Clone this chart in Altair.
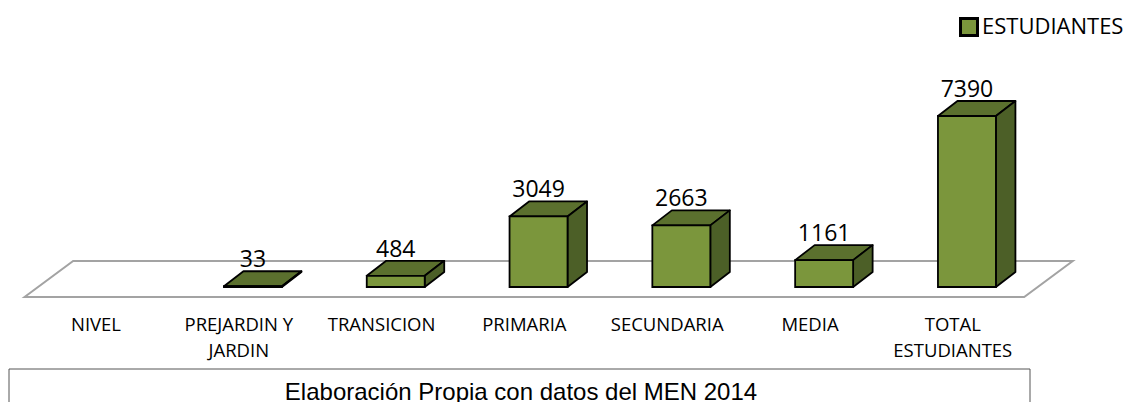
import altair as alt
import pandas as pd

categories = ["NIVEL", "PREJARDIN Y JARDIN", "TRANSICION", "PRIMARIA", "SECUNDARIA", "MEDIA", "TOTAL ESTUDIANTES"]
label_lines = [["NIVEL"], ["PREJARDIN Y", "JARDIN"], ["TRANSICION"], ["PRIMARIA"], ["SECUNDARIA"], ["MEDIA"], ["TOTAL", "ESTUDIANTES"]]
values = [None, 33, 484, 3049, 2663, 1161, 7390]
series_name = "ESTUDIANTES"
caption = "Elaboración Propia con datos del MEN 2014"

PX_X = 142.8
PX_Y = 171 / 7390
X_DOM = [(8 - 96) / PX_X, (1128 - 96) / PX_X]
Y_DOM = [(287 - 402) / PX_Y, (287 - 8) / PX_Y]
BAR_L, BAR_W = -0.104, 0.406
DX, DY = 19.5 / PX_X, 15 / PX_Y

xs = alt.Scale(domain=X_DOM, nice=False, zero=False)
ys = alt.Scale(domain=Y_DOM, nice=False, zero=False)
X = lambda f="x": alt.X(f"{f}:Q", scale=xs, axis=None)
Y = lambda f="y": alt.Y(f"{f}:Q", scale=ys, axis=None)

front, top, side, cats = [], [], [], []
for i, (c, v, ll) in enumerate(zip(categories, values, label_lines)):
    cats.append({"i": i, "lab": ll, "y": (287 - 330.5) / PX_Y})
    if v is None:
        continue
    l = i + BAR_L
    r = l + BAR_W
    front.append({"cat": c, "series": series_name, "x": l, "x2": r, "y": 0, "y2": v, "xc": l + BAR_W / 2, "v": v})
    for x, lo, hi in [(l, v, v), (l + DX, v, v + DY), (r, v, v + DY), (r + DX, v + DY, v + DY)]:
        top.append({"cat": c, "x": x, "y": lo, "y2": hi})
    for x, lo, hi in [(r, 0, v), (r + DX, DY, v + DY)]:
        side.append({"cat": c, "x": x, "y": lo, "y2": hi})

fl, fd = -10 / PX_Y, 36 / PX_Y
fdx = 0.34
floor = pd.DataFrame([
    {"x": -0.5, "y": fl, "y2": fl},
    {"x": -0.5 + fdx, "y": fl, "y2": fl + fd},
    {"x": 6.5, "y": fl, "y2": fl + fd},
    {"x": 6.5 + fdx, "y": fl + fd, "y2": fl + fd},
])
front = pd.DataFrame(front)
top = pd.DataFrame(top)
side = pd.DataFrame(side)
cats = pd.DataFrame(cats)

floor_l = alt.Chart(floor).mark_area(fill="#ffffff", stroke="#a3a3a3", strokeWidth=2, interpolate="linear").encode(
    x=X(), y=Y(), y2="y2:Q")
top_l = alt.Chart(top).mark_area(fill="#5b702e", stroke="#000000", strokeWidth=1.8, strokeJoin="round").encode(
    x=X(), y=Y(), y2="y2:Q", detail="cat:N")
side_l = alt.Chart(side).mark_area(fill="#4c5f27", stroke="#000000", strokeWidth=1.8, strokeJoin="round").encode(
    x=X(), y=Y(), y2="y2:Q", detail="cat:N")
front_l = alt.Chart(front).mark_rect(stroke="#000000", strokeWidth=1.8).encode(
    x=X(), x2="x2:Q", y=Y(), y2="y2:Q",
    color=alt.Color("series:N", scale=alt.Scale(domain=[series_name], range=["#7b963c"]),
                    legend=alt.Legend(title=None, orient="none", legendX=950, legendY=8,
                                      symbolType="square", symbolSize=289, symbolStrokeColor="#000000",
                                      symbolStrokeWidth=3, labelFont="Open Sans", labelFontSize=22,
                                      labelColor="#000000", labelOffset=2)))
val_l = alt.Chart(front).mark_text(font="Open Sans", fontSize=23, color="#000000", baseline="alphabetic", dy=-19).encode(
    x=X("xc"), y=Y("y2"), text="v:Q")
cat_l = alt.Chart(cats).mark_text(font="Open Sans", fontSize=18.5, color="#000000", baseline="alphabetic", lineHeight=26).encode(
    x=X("i"), y=Y(), text="lab")

box = pd.DataFrame([{"x": (9 - 96) / PX_X, "x2": (1030 - 96) / PX_X, "y": (287 - 369) / PX_Y, "y2": (287 - 420) / PX_Y,
                     "xc": (521 - 96) / PX_X, "yc": (287 - 400) / PX_Y, "t": caption}])
box_l = alt.Chart(box).mark_rect(fill="#ffffff", stroke="#555555", strokeWidth=1, clip=True).encode(
    x=X(), x2="x2:Q", y=Y(), y2="y2:Q")
cap_l = alt.Chart(box).mark_text(font="Liberation Sans", fontSize=24, color="#000000", baseline="alphabetic").encode(
    x=X("xc"), y=Y("yc"), text="t:N")

chart = alt.layer(floor_l, box_l, top_l, side_l, front_l, val_l, cat_l, cap_l).properties(
    width=1120, height=394, padding=0, autosize=alt.AutoSizeParams(type="none")
).configure_view(stroke=None)
chart.save("out.html", embed_options={"renderer": "svg", "actions": False})
